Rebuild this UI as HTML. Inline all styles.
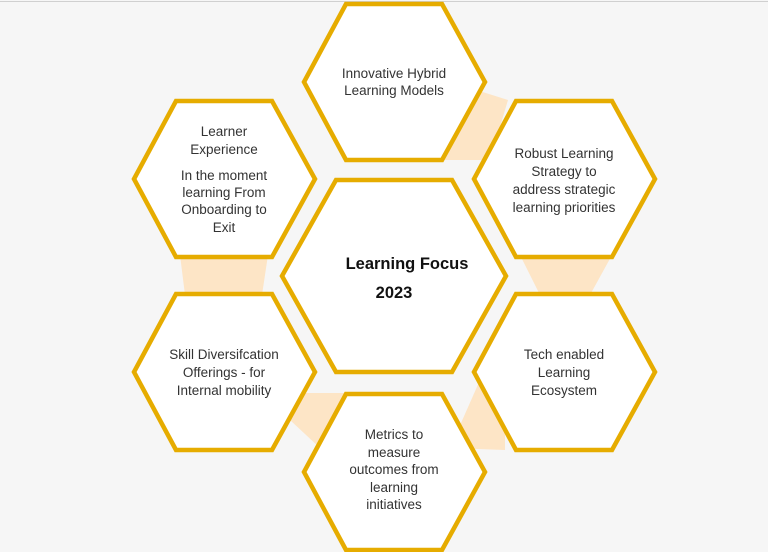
<!DOCTYPE html>
<html><head><style>
html,body{margin:0;padding:0;background:#f6f6f6;}
svg{display:block;}
text{font-family:"Liberation Sans",sans-serif;font-size:13.5px;fill:#333;text-anchor:middle;}
.b{font-weight:bold;font-size:16.5px;fill:#111;}
</style></head><body>
<svg width="768" height="552" viewBox="0 0 768 552" xmlns="http://www.w3.org/2000/svg">
<rect width="768" height="552" fill="#f6f6f6"/>
<line x1="0" y1="1.5" x2="768" y2="1.5" stroke="#d0d0d0" stroke-width="1"/>
<g fill="#fde5c6">
<polygon points="440,160 490,160 508,100 470,88"/>
<polygon points="520,255 612,255 590,295 540,295"/>
<polygon points="450,448 505,450 505,370 480,380"/>
<polygon points="298,393 350,393 335,462 290,420"/>
<polygon points="180,255 268,255 262,295 185,295"/>
</g>
<g fill="#fff" stroke="#e6ac00" stroke-width="4.5" stroke-linejoin="miter">
<polygon points="304,82 346,4 442,4 485,82 442,160 346,160"/>
<polygon points="474,179 516,101 612,101 655,179 612,257 516,257"/>
<polygon points="474,372 516,294 612,294 655,372 612,450 516,450"/>
<polygon points="304,472 346,394 442,394 485,472 442,550 346,550"/>
<polygon points="134,372 176,294 272,294 315,372 272,450 176,450"/>
<polygon points="134,179 176,101 272,101 315,179 272,257 176,257"/>
<polygon points="282,276 336,180 452,180 506,276 452,372 336,372"/>
</g>
<text x="394" y="78">Innovative Hybrid</text>
<text x="394" y="95">Learning Models</text>
<text x="564" y="158">Robust Learning</text>
<text x="564" y="176">Strategy to</text>
<text x="564" y="194">address strategic</text>
<text x="564" y="212">learning priorities</text>
<text x="564" y="359">Tech enabled</text>
<text x="564" y="377">Learning</text>
<text x="564" y="395">Ecosystem</text>
<text x="394" y="439">Metrics to</text>
<text x="394" y="457">measure</text>
<text x="394" y="474">outcomes from</text>
<text x="394" y="492">learning</text>
<text x="394" y="509">initiatives</text>
<text x="224" y="359">Skill Diversifcation</text>
<text x="224" y="377">Offerings - for</text>
<text x="224" y="395">Internal mobility</text>
<text x="224" y="136">Learner</text>
<text x="224" y="154">Experience</text>
<text x="224" y="180">In the moment</text>
<text x="224" y="197">learning From</text>
<text x="224" y="214">Onboarding to</text>
<text x="224" y="232">Exit</text>
<text class="b" x="407" y="269">Learning Focus</text>
<text class="b" x="394" y="298">2023</text>
</svg>
</body></html>
